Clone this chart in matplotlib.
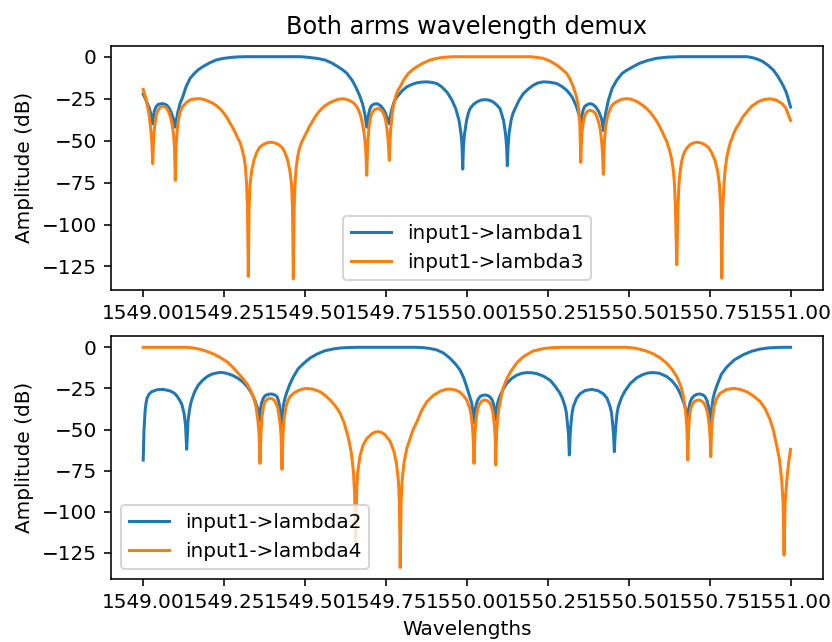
import matplotlib
matplotlib.use("Agg")
import matplotlib.pyplot as plt

# (wavelength nm, amplitude dB) samples for each output port

lambda1_pts = [
    (1549.0000, -22.3), (1549.0055, -24.5), (1549.0108, -27), (1549.0150, -29), (1549.0195, -31),
    (1549.0256, -36), (1549.0294, -40), (1549.0320, -35), (1549.0349, -32), (1549.0400, -29.8),
    (1549.0457, -28.5), (1549.0530, -28.1), (1549.0603, -28), (1549.0670, -28.3), (1549.0735, -29),
    (1549.0800, -30.6), (1549.0859, -33), (1549.0936, -37), (1549.0965, -39.5), (1549.0992, -42),
    (1549.1025, -38), (1549.1060, -34), (1549.1137, -28), (1549.1220, -24), (1549.1322, -18),
    (1549.1446, -13), (1549.1579, -10), (1549.1700, -7.8), (1549.1838, -6), (1549.2040, -3.8),
    (1549.2249, -2), (1549.2450, -1.1), (1549.2682, -0.5), (1549.2900, -0.15), (1549.3145, 0),
    (1549.4845, 0), (1549.5000, -0.2), (1549.5154, -0.5), (1549.5400, -1.1), (1549.5617, -2),
    (1549.5830, -3.8), (1549.6019, -6), (1549.6160, -7.8), (1549.6297, -10), (1549.6452, -14),
    (1549.6566, -18), (1549.6683, -23), (1549.6776, -28), (1549.6847, -34), (1549.6906, -42),
    (1549.6977, -33), (1549.7020, -30.3), (1549.7069, -29), (1549.7140, -28.2), (1549.7215, -28),
    (1549.7280, -28.5), (1549.7347, -29.5), (1549.7410, -31), (1549.7471, -33), (1549.7548, -37),
    (1549.7604, -40), (1549.7635, -35.5), (1549.7672, -32), (1549.7749, -27), (1549.7810, -24.8),
    (1549.7882, -23), (1549.8000, -20.3), (1549.8141, -18), (1549.8290, -16.6), (1549.8451, -15.6),
    (1549.8600, -15.15), (1549.8760, -15), (1549.8920, -15.3), (1549.9069, -16), (1549.9220, -17.9),
    (1549.9378, -21), (1549.9460, -23.3), (1549.9541, -26), (1549.9656, -31), (1549.9758, -38),
    (1549.9819, -46), (1549.9850, -53), (1549.9872, -67), (1549.9895, -53), (1549.9928, -46),
    (1549.9990, -38), (1550.0040, -34), (1550.0097, -31), (1550.0200, -28.5), (1550.0304, -27),
    (1550.0430, -25.9), (1550.0561, -25.6), (1550.0690, -25.9), (1550.0817, -27), (1550.0920, -28.7),
    (1550.1024, -31), (1550.1080, -34.5), (1550.1132, -38), (1550.1194, -46), (1550.1225, -53),
    (1550.1250, -65), (1550.1275, -53), (1550.1302, -46), (1550.1364, -38), (1550.1420, -34),
    (1550.1488, -31), (1550.1610, -26), (1550.1744, -22), (1550.1900, -19.2), (1550.2053, -17),
    (1550.2200, -15.6), (1550.2362, -15), (1550.2560, -15.2), (1550.2776, -16), (1550.2940, -17.8),
    (1550.3085, -20), (1550.3170, -22), (1550.3249, -24), (1550.3372, -29), (1550.3456, -34),
    (1550.3518, -40), (1550.3550, -35.5), (1550.3589, -32), (1550.3630, -30), (1550.3681, -29),
    (1550.3760, -28.2), (1550.3827, -28), (1550.3890, -28.5), (1550.3960, -29.5), (1550.4020, -31),
    (1550.4083, -33), (1550.4161, -37), (1550.4190, -40), (1550.4216, -44), (1550.4250, -38),
    (1550.4284, -34), (1550.4371, -26), (1550.4485, -19), (1550.4630, -14), (1550.4794, -10),
    (1550.4920, -8.3), (1550.5041, -7), (1550.5300, -4.2), (1550.5557, -2.4), (1550.5850, -1),
    (1550.6175, -0.3), (1550.6586, 0), (1550.8647, 0), (1550.8780, -0.4), (1550.8903, -1),
    (1550.9030, -1.9), (1550.9150, -3), (1550.9310, -5.2), (1550.9469, -8), (1550.9600, -11.5),
    (1550.9707, -15), (1550.9790, -18), (1550.9861, -21), (1550.9935, -25.5), (1551.0000, -30),
]

lambda3_pts = [
    (1549.0000, -19.5), (1549.0056, -23), (1549.0100, -26.5), (1549.0148, -31), (1549.0190, -35.5),
    (1549.0226, -42), (1549.0265, -50), (1549.0294, -63.8), (1549.0325, -47), (1549.0365, -40),
    (1549.0410, -34.5), (1549.0457, -32), (1549.0530, -30), (1549.0603, -29.5), (1549.0670, -29.8),
    (1549.0735, -31), (1549.0800, -33.5), (1549.0859, -37), (1549.0900, -41), (1549.0936, -46),
    (1549.0967, -54), (1549.0992, -73.7), (1549.1020, -52), (1549.1060, -42), (1549.1100, -36.5),
    (1549.1137, -33), (1549.1185, -30.8), (1549.1230, -29.5), (1549.1353, -27), (1549.1477, -25.5),
    (1549.1620, -25.1), (1549.1755, -25), (1549.1880, -25.5), (1549.2002, -26.4), (1549.2137, -27.6),
    (1549.2271, -29.3), (1549.2370, -31), (1549.2466, -33), (1549.2580, -36), (1549.2682, -39.5),
    (1549.2760, -42), (1549.2836, -45), (1549.2920, -48.5), (1549.2991, -51), (1549.3060, -55.5),
    (1549.3115, -60), (1549.3160, -66), (1549.3192, -75), (1549.3222, -90), (1549.3247, -131),
    (1549.3272, -90), (1549.3302, -76), (1549.3352, -68), (1549.3424, -61.5), (1549.3507, -57),
    (1549.3597, -54), (1549.3711, -52.3), (1549.3827, -51.3), (1549.3942, -51), (1549.4058, -51.3),
    (1549.4174, -52.3), (1549.4288, -54), (1549.4378, -57), (1549.4461, -61.5), (1549.4533, -68),
    (1549.4583, -76), (1549.4613, -90), (1549.4638, -132.4), (1549.4663, -90), (1549.4693, -75),
    (1549.4728, -66), (1549.4770, -60), (1549.4815, -55.5), (1549.4894, -51), (1549.4960, -48.5),
    (1549.5049, -45), (1549.5125, -42), (1549.5203, -39.5), (1549.5305, -36), (1549.5419, -33),
    (1549.5514, -31), (1549.5614, -29.3), (1549.5748, -27.6), (1549.5883, -26.4), (1549.6008, -25.5),
    (1549.6130, -25.1), (1549.6260, -25.3), (1549.6383, -26.2), (1549.6507, -27.6), (1549.6600, -29.8),
    (1549.6670, -32.5), (1549.6723, -35.5), (1549.6760, -38.5), (1549.6800, -42.5), (1549.6840, -48),
    (1549.6875, -55), (1549.6906, -70.7), (1549.6935, -52), (1549.6977, -42), (1549.7020, -36.5),
    (1549.7069, -33.5), (1549.7150, -31.5), (1549.7246, -30.9), (1549.7320, -31.3), (1549.7378, -32.3),
    (1549.7440, -34.5), (1549.7486, -37.5), (1549.7530, -43), (1549.7570, -50), (1549.7604, -61.8),
    (1549.7640, -45), (1549.7672, -38), (1549.7700, -33), (1549.7728, -30), (1549.7770, -26),
    (1549.7811, -23), (1549.7870, -20), (1549.7935, -18), (1549.8060, -13.5), (1549.8191, -10),
    (1549.8320, -7.8), (1549.8451, -6), (1549.8650, -3.8), (1549.8862, -2), (1549.9060, -1),
    (1549.9273, -0.4), (1549.9500, -0.1), (1549.9634, 0), (1550.1951, 0), (1550.2160, -0.4),
    (1550.2362, -1), (1550.2560, -2.5), (1550.2776, -5), (1550.2940, -7.5), (1550.3085, -10),
    (1550.3190, -13.5), (1550.3289, -18), (1550.3340, -21), (1550.3388, -24), (1550.3430, -28),
    (1550.3459, -32), (1550.3490, -40), (1550.3518, -63), (1550.3550, -46), (1550.3589, -40),
    (1550.3630, -36), (1550.3681, -33.5), (1550.3740, -32.3), (1550.3805, -32), (1550.3880, -32.3),
    (1550.3960, -33.5), (1550.4020, -36), (1550.4083, -40), (1550.4125, -44), (1550.4161, -50),
    (1550.4190, -57), (1550.4216, -70), (1550.4245, -52), (1550.4284, -42), (1550.4330, -37),
    (1550.4371, -34), (1550.4430, -31), (1550.4485, -29), (1550.4560, -27.6), (1550.4630, -26.8),
    (1550.4780, -25.4), (1550.4939, -25), (1550.5060, -25.3), (1550.5196, -26.2), (1550.5320, -27.5),
    (1550.5452, -29.3), (1550.5560, -31), (1550.5659, -33), (1550.5770, -35.8), (1550.5866, -38.5),
    (1550.5950, -41.5), (1550.6030, -44.5), (1550.6100, -47.5), (1550.6175, -50.5), (1550.6250, -55),
    (1550.6308, -59.5), (1550.6350, -64), (1550.6379, -68), (1550.6410, -75), (1550.6440, -88),
    (1550.6484, -124), (1550.6525, -88), (1550.6555, -75), (1550.6586, -69), (1550.6630, -63),
    (1550.6679, -59), (1550.6730, -56.5), (1550.6793, -54.5), (1550.6900, -52.3), (1550.6997, -51.4),
    (1550.7100, -51), (1550.7204, -51.2), (1550.7330, -52.2), (1550.7461, -54), (1550.7560, -57),
    (1550.7668, -62), (1550.7745, -68), (1550.7801, -76), (1550.7844, -90), (1550.7875, -132),
    (1550.7905, -90), (1550.7946, -75), (1550.7980, -67), (1550.8030, -60), (1550.8079, -55.5),
    (1550.8140, -51), (1550.8193, -48.5), (1550.8260, -45), (1550.8338, -42), (1550.8420, -39.5),
    (1550.8520, -36), (1550.8647, -33), (1550.8800, -29.5), (1550.9005, -26.8), (1550.9180, -25.5),
    (1550.9367, -25.1), (1550.9550, -25.8), (1550.9728, -27.8), (1550.9850, -30.5), (1551.0000, -38),
]

lambda2_pts = [
    (1549.0000, -68.6), (1549.0025, -50), (1549.0062, -38), (1549.0088, -34), (1549.0117, -31),
    (1549.0180, -28.5), (1549.0263, -27), (1549.0426, -25.8), (1549.0621, -25.6), (1549.0828, -26.5),
    (1549.0910, -27.3), (1549.0983, -28.3), (1549.1050, -29.8), (1549.1106, -31.5), (1549.1190, -34.5),
    (1549.1261, -40), (1549.1307, -47), (1549.1344, -62), (1549.1384, -45), (1549.1431, -38),
    (1549.1465, -34.5), (1549.1499, -32), (1549.1590, -27), (1549.1702, -23), (1549.1830, -20.2),
    (1549.1962, -18), (1549.2110, -16.4), (1549.2271, -15.6), (1549.2380, -15.3), (1549.2500, -15.5),
    (1549.2640, -16.2), (1549.2784, -17.3), (1549.2940, -19), (1549.3093, -21.3), (1549.3230, -24.3),
    (1549.3352, -28), (1549.3454, -32.5), (1549.3532, -37), (1549.3565, -41), (1549.3587, -45),
    (1549.3620, -38), (1549.3655, -34), (1549.3710, -31), (1549.3763, -29.5), (1549.3860, -28.6),
    (1549.3970, -28.4), (1549.4060, -28.9), (1549.4134, -30), (1549.4180, -32.5), (1549.4211, -35.5),
    (1549.4250, -41), (1549.4279, -48), (1549.4310, -40), (1549.4335, -35), (1549.4380, -31),
    (1549.4434, -27.5), (1549.4530, -22.5), (1549.4638, -18), (1549.4790, -13), (1549.4947, -10),
    (1549.5150, -6.6), (1549.5361, -4.2), (1549.5600, -2.2), (1549.5874, -1), (1549.6100, -0.4),
    (1549.6390, -0.1), (1549.6700, 0), (1549.8400, 0), (1549.8645, -0.2), (1549.8850, -0.7),
    (1549.9069, -1.6), (1549.9280, -3.5), (1549.9479, -6.7), (1549.9640, -10), (1549.9788, -13.8),
    (1549.9900, -18.5), (1549.9995, -24), (1550.0080, -29.5), (1550.0150, -34), (1550.0190, -39),
    (1550.0221, -46), (1550.0260, -38), (1550.0298, -34), (1550.0350, -31.5), (1550.0406, -30),
    (1550.0480, -29.2), (1550.0561, -29), (1550.0640, -29.3), (1550.0715, -30.2), (1550.0780, -32),
    (1550.0823, -34.5), (1550.0860, -38.5), (1550.0891, -44), (1550.0925, -37), (1550.0962, -33),
    (1550.1024, -29.5), (1550.1120, -25.5), (1550.1231, -22), (1550.1380, -19), (1550.1540, -17),
    (1550.1700, -15.8), (1550.1849, -15.4), (1550.2000, -15.5), (1550.2158, -16), (1550.2360, -17.5),
    (1550.2569, -20), (1550.2720, -23.5), (1550.2878, -28), (1550.2960, -31.5), (1550.3033, -36),
    (1550.3075, -40), (1550.3104, -46), (1550.3140, -53), (1550.3166, -65.5), (1550.3192, -53),
    (1550.3218, -46), (1550.3250, -40), (1550.3289, -36), (1550.3390, -31), (1550.3496, -28.3),
    (1550.3651, -26.3), (1550.3858, -25.6), (1550.4052, -26.4), (1550.4216, -28.3), (1550.4330, -31),
    (1550.4423, -36), (1550.4470, -40), (1550.4500, -46), (1550.4530, -53), (1550.4556, -63.5),
    (1550.4582, -53), (1550.4609, -46), (1550.4640, -40), (1550.4680, -36), (1550.4780, -30.5),
    (1550.4887, -26.5), (1550.5050, -22), (1550.5248, -18.5), (1550.5450, -16.5), (1550.5600, -15.6),
    (1550.5761, -15.4), (1550.5950, -15.8), (1550.6175, -17.8), (1550.6330, -20.3), (1550.6484, -24),
    (1550.6590, -28), (1550.6688, -33), (1550.6760, -37.5), (1550.6824, -43), (1550.6860, -37),
    (1550.6895, -33.5), (1550.6950, -31), (1550.7019, -29.5), (1550.7110, -28.6), (1550.7204, -28.4),
    (1550.7290, -28.9), (1550.7358, -30), (1550.7420, -32.5), (1550.7467, -36), (1550.7505, -41),
    (1550.7535, -48), (1550.7570, -37), (1550.7606, -31), (1550.7660, -27), (1550.7720, -23.5),
    (1550.7860, -16.5), (1550.8029, -12), (1550.8260, -7.7), (1550.8542, -4.5), (1550.8800, -2.4),
    (1550.9058, -1.1), (1550.9300, -0.4), (1550.9574, -0.1), (1550.9800, 0), (1551.0000, 0),
]

lambda4_pts = [
    (1549.0000, 0), (1549.1344, 0), (1549.1550, -0.4), (1549.1755, -1.2), (1549.1960, -2.4),
    (1549.2166, -4), (1549.2370, -6.1), (1549.2580, -8.7), (1549.2740, -11.5), (1549.2889, -14.8),
    (1549.3050, -18.3), (1549.3198, -22), (1549.3315, -26), (1549.3402, -30), (1549.3485, -36),
    (1549.3547, -45), (1549.3580, -53), (1549.3609, -70.6), (1549.3640, -52), (1549.3671, -42),
    (1549.3715, -36), (1549.3763, -33), (1549.3840, -31.5), (1549.3918, -31), (1549.3990, -31.3),
    (1549.4057, -32.3), (1549.4110, -34.3), (1549.4165, -37.5), (1549.4227, -46), (1549.4260, -54),
    (1549.4289, -74.2), (1549.4320, -52), (1549.4350, -44), (1549.4412, -36), (1549.4470, -32.5),
    (1549.4536, -30), (1549.4660, -27.8), (1549.4792, -26.3), (1549.4920, -25.4), (1549.5052, -25),
    (1549.5250, -25.5), (1549.5463, -27), (1549.5620, -29.2), (1549.5772, -32), (1549.5930, -35.5),
    (1549.6081, -40), (1549.6210, -46), (1549.6337, -55), (1549.6421, -63), (1549.6492, -75),
    (1549.6530, -88), (1549.6563, -118), (1549.6595, -88), (1549.6622, -77), (1549.6699, -66),
    (1549.6792, -59.5), (1549.6906, -55.5), (1549.7069, -52.5), (1549.7165, -51.6), (1549.7264, -51.3),
    (1549.7370, -51.8), (1549.7471, -53.2), (1549.7626, -57), (1549.7749, -63.5), (1549.7827, -71),
    (1549.7888, -82), (1549.7915, -95), (1549.7941, -133.9), (1549.7967, -95), (1549.7996, -82),
    (1549.8058, -70), (1549.8151, -61), (1549.8244, -55.5), (1549.8340, -50), (1549.8451, -45.5),
    (1549.8600, -38.5), (1549.8760, -33.2), (1549.8960, -29.3), (1549.9171, -26.8), (1549.9320, -25.7),
    (1549.9479, -25.4), (1549.9640, -25.9), (1549.9788, -27.3), (1549.9900, -29.5), (1549.9995, -32),
    (1550.0088, -37), (1550.0130, -41), (1550.0159, -46), (1550.0192, -54), (1550.0221, -70.6),
    (1550.0250, -52), (1550.0283, -44), (1550.0325, -38.5), (1550.0375, -35), (1550.0460, -32.7),
    (1550.0561, -32), (1550.0640, -32.6), (1550.0715, -34), (1550.0765, -36.5), (1550.0808, -40),
    (1550.0854, -48), (1550.0875, -55), (1550.0891, -71.6), (1550.0918, -52), (1550.0947, -44),
    (1550.0985, -38), (1550.1024, -34), (1550.1070, -29), (1550.1126, -24.5), (1550.1250, -18.5),
    (1550.1386, -13.8), (1550.1550, -9.3), (1550.1744, -5.7), (1550.2040, -2.3), (1550.2362, -0.8),
    (1550.2650, -0.2), (1550.2980, 0), (1550.4939, 0), (1550.5150, -0.4), (1550.5350, -1.2),
    (1550.5560, -2.4), (1550.5761, -4), (1550.5970, -6.4), (1550.6175, -9.7), (1550.6340, -13.5),
    (1550.6484, -17.8), (1550.6617, -24), (1550.6655, -27), (1550.6688, -30), (1550.6740, -36),
    (1550.6771, -42), (1550.6800, -50), (1550.6824, -68.6), (1550.6850, -50), (1550.6879, -42),
    (1550.6915, -37.5), (1550.6957, -35), (1550.7040, -32.8), (1550.7151, -32), (1550.7240, -32.5),
    (1550.7327, -34), (1550.7385, -36.5), (1550.7436, -40), (1550.7491, -48), (1550.7515, -55),
    (1550.7535, -66.5), (1550.7560, -50), (1550.7584, -44), (1550.7637, -36), (1550.7720, -31),
    (1550.7822, -28), (1550.8020, -25.7), (1550.8233, -25), (1550.8440, -25.6), (1550.8647, -27),
    (1550.8850, -29.5), (1550.9058, -33), (1550.9220, -37.5), (1550.9367, -44), (1550.9470, -50.5),
    (1550.9574, -60), (1550.9655, -68), (1550.9728, -81), (1550.9770, -95), (1550.9799, -126.4),
    (1550.9830, -95), (1550.9883, -81), (1550.9941, -70), (1551.0000, -62),
]

xticks = [1549.0, 1549.25, 1549.5, 1549.75, 1550.0, 1550.25, 1550.5, 1550.75, 1551.0]
xticklabels = ['1549.00', '1549.25', '1549.50', '1549.75', '1550.00',
               '1550.25', '1550.50', '1550.75', '1551.00']


def draw(ax, pts, label):
    wl, db = zip(*pts)
    ax.plot(wl, db, label=label)


fig = plt.figure(figsize=(832 / 144, 642 / 144), dpi=144)
ax1 = fig.add_axes([0.1332, 0.5483, 0.8559, 0.3807])
ax2 = fig.add_axes([0.1332, 0.0989, 0.8559, 0.3773])

draw(ax1, lambda1_pts, 'input1->lambda1')
draw(ax1, lambda3_pts, 'input1->lambda3')
ax1.set_title('Both arms wavelength demux')
ax1.set_ylabel('Amplitude (dB)')
ax1.set_xticks(xticks)
ax1.set_xticklabels(xticklabels)
ax1.legend(loc='lower center')

draw(ax2, lambda2_pts, 'input1->lambda2')
draw(ax2, lambda4_pts, 'input1->lambda4')
ax2.set_ylabel('Amplitude (dB)')
ax2.set_xlabel('Wavelengths')
ax2.set_xticks(xticks)
ax2.set_xticklabels(xticklabels)
ax2.legend(loc='lower left')

fig.savefig('out.png', dpi=144)
